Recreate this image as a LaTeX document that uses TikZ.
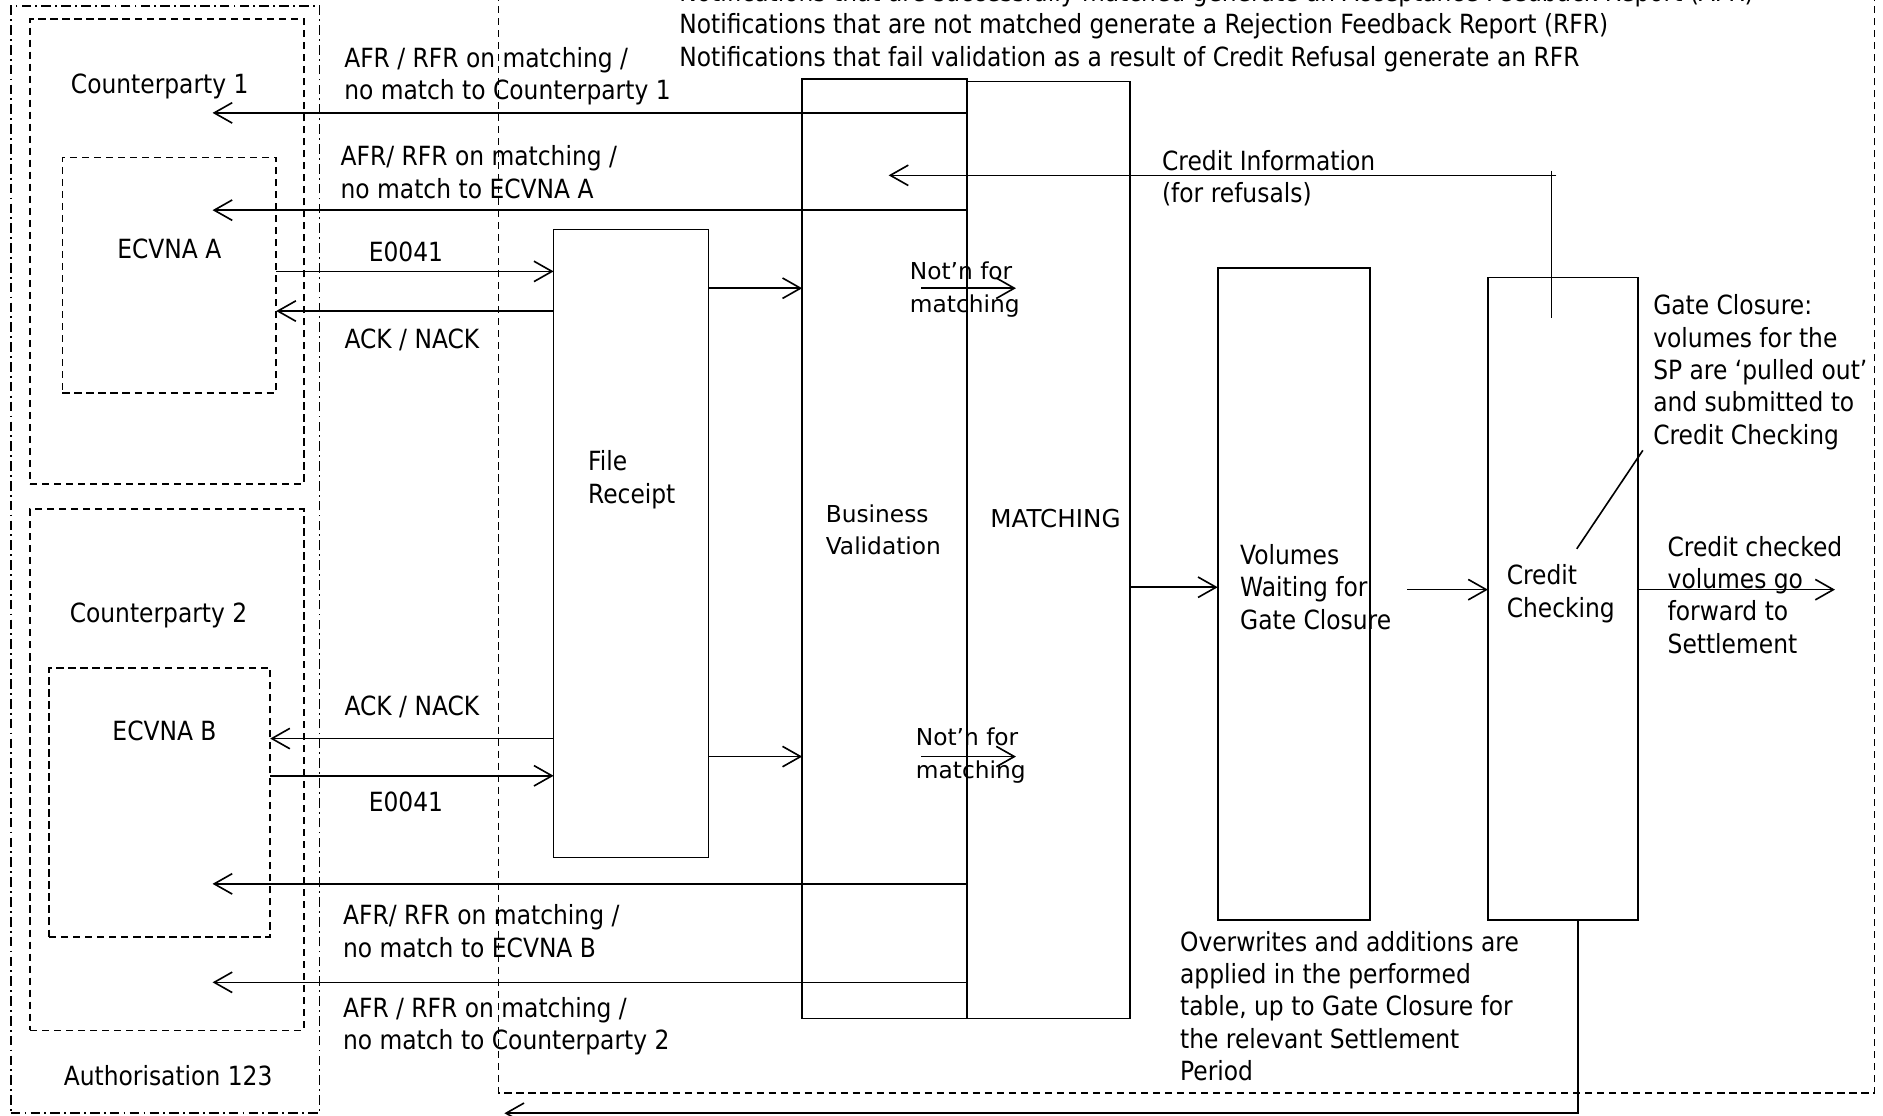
\documentclass[tikz,border=0pt]{standalone}
\usepackage{fontspec}
\setmainfont{DejaVu Sans}[FakeStretch=0.885]
\newfontfamily\widesans{DejaVu Sans}
\usetikzlibrary{arrows.meta}

\newcommand\mainsz{\fontsize{22}{27}\selectfont}
\newcommand\widesz{\widesans\fontsize{19.4}{27}\selectfont}

\begin{document}
\begin{tikzpicture}[x=1pt,y=-1pt,
  line width=1.35pt,
  arr/.style={-{Straight Barb[length=15pt,width=17pt,line width=1.35pt]}},
  procbox/.style={draw, rectangle, inner sep=0pt, outer sep=0pt, anchor=north west},
  dashbox/.style={procbox, dash pattern=on 6pt off 4pt},
  authbox/.style={procbox, dash pattern=on 8pt off 3.5pt on 1.5pt off 3.5pt},
  lbl/.style={inner sep=0pt, align=left, font=\mainsz},
  wlbl/.style={inner sep=0pt, align=left, font=\widesz},
  frame/.style={dash pattern=on 6pt off 4pt}]

\useasboundingbox (0,0) rectangle (1568,929);
\fill[white] (0,0) rectangle (1568,929);

% ---------- participant boxes ----------
\node[authbox, minimum width=257pt, minimum height=922pt] (auth) at (9,5) {};
\node[dashbox, minimum width=228pt, minimum height=387pt] (cp1) at (25,16) {};
\node[dashbox, minimum width=178pt, minimum height=196pt] (ea) at (52,131) {};
\node[dashbox, minimum width=228pt, minimum height=434pt] (cp2) at (25,424) {};
\node[dashbox, minimum width=184pt, minimum height=224pt] (eb) at (41,556) {};

\node[lbl, anchor=base] (cp1l) at (133,78) {Counterparty 1};
\node[lbl, anchor=base] (eal) at (141,215) {ECVNA A};
\node[lbl, anchor=base] (cp2l) at (132,518) {Counterparty 2};
\node[lbl, anchor=base] (ebl) at (137,617) {ECVNA B};
\node[lbl, anchor=base] (authl) at (140,904) {Authorisation 123};

% ---------- system boundary ----------
\coordinate (fa) at (415,-5);
\coordinate (fb) at (415,910);
\coordinate (fc) at (1561,910);
\coordinate (fd) at (1561,-5);
\draw[frame] (fa) -- (fb) -- (fc) -- (fd);

% multi-line labels are anchored on the baseline of their last line
\node[lbl, anchor=base west] (notes) at (565,55)
  {Notifications that are successfully matched generate an Acceptance Feedback Report (AFR)\\
   Notifications that are not matched generate a Rejection Feedback Report (RFR)\\
   Notifications that fail validation as a result of Credit Refusal generate an RFR};

% ---------- process boxes ----------
\node[procbox, minimum width=129pt, minimum height=523pt] (fr) at (461,191) {};
\node[procbox, minimum width=137pt, minimum height=782pt] (bv) at (668,66) {};
\node[procbox, minimum width=136pt, minimum height=780pt] (mat) at (805,68) {};
\node[procbox, minimum width=127pt, minimum height=543pt] (vol) at (1014,223) {};
\node[procbox, minimum width=125pt, minimum height=535pt] (cc) at (1239,231) {};

\node[lbl, anchor=base west] (frl) at (489,419) {File\\Receipt};
\node[wlbl, anchor=base west] (bvl) at (687,462) {Business\\Validation};
\node[wlbl, anchor=base west, font=\widesans\fontsize{20.5}{27}\selectfont] (matl) at (824,439) {MATCHING};
\node[lbl, anchor=base west] (voll) at (1032,524) {Volumes\\Waiting for\\Gate Closure};
\node[lbl, anchor=base west] (ccl) at (1254,514) {Credit\\Checking};

% ---------- feedback to participants ----------
\coordinate (t1) at (177,94);
\coordinate (t2) at (177,175);
\coordinate (t3) at (177,736);
\coordinate (t4) at (177,818);
\draw[arr] (mat.west |- t1) -- (t1);
\draw[arr] (mat.west |- t2) -- (t2);
\draw[arr] (mat.west |- t3) -- (t3);
\draw[arr] (mat.west |- t4) -- (t4);

\node[lbl, anchor=base west] (f1) at (286,83) {AFR / RFR on matching /\\no match to Counterparty 1};
\node[lbl, anchor=base west] (f2) at (283,165) {AFR/ RFR on matching /\\no match to ECVNA A};
\node[lbl, anchor=base west] (f3) at (285,797) {AFR/ RFR on matching /\\no match to ECVNA B};
\node[lbl, anchor=base west] (f4) at (285,874) {AFR / RFR on matching /\\no match to Counterparty 2};

% ---------- file submission and acknowledgement ----------
\coordinate (ya1) at (0,226);
\coordinate (ya2) at (0,259);
\coordinate (yb1) at (0,615);
\coordinate (yb2) at (0,646);
\draw[arr] (ea.east |- ya1) -- (fr.west |- ya1);
\draw[arr] (fr.west |- ya2) -- (ea.east |- ya2);
\draw[arr] (fr.west |- yb1) -- (eb.east |- yb1);
\draw[arr] (eb.east |- yb2) -- (fr.west |- yb2);

\node[lbl, anchor=base] (e1) at (338,218) {E0041};
\node[lbl, anchor=base] (a1) at (343,290) {ACK / NACK};
\node[lbl, anchor=base] (a2) at (343,596) {ACK / NACK};
\node[lbl, anchor=base] (e2) at (338,676) {E0041};

% ---------- receipt to validation to matching ----------
\coordinate (yr1) at (0,240);
\coordinate (yr2) at (0,630);
\draw[arr] (fr.east |- yr1) -- (bv.west |- yr1);
\draw[arr] (fr.east |- yr2) -- (bv.west |- yr2);

\coordinate (n1s) at (767,240);
\coordinate (n1e) at (846,240);
\coordinate (n2s) at (767,630);
\coordinate (n2e) at (846,630);
\draw[arr] (n1s) -- (n1e);
\draw[arr] (n2s) -- (n2e);
\node[wlbl, anchor=base west] (n1l) at (757,260) {Not’n for\\matching};
\node[wlbl, anchor=base west] (n2l) at (762,648) {Not’n for\\matching};

% ---------- credit information for refusals ----------
\coordinate (ci1) at (1292,142);
\coordinate (ci2) at (1292,265);
\coordinate (ci3) at (1296,146);
\coordinate (ci4) at (740,146);
\draw (ci1) -- (ci2);
\draw[arr] (ci3) -- (ci4);
\node[lbl, anchor=base west] (cil) at (967,169) {Credit Information\\(for refusals)};

% ---------- matched volumes through gate closure ----------
\coordinate (ym) at (0,489);
\coordinate (yv) at (0,491);
\coordinate (vs) at (1172,491);
\coordinate (out) at (1528,491);
\draw[arr] (mat.east |- ym) -- (vol.west |- ym);
\draw[arr] (vs) -- (cc.west |- yv);
\draw[arr] (cc.east |- yv) -- (out);
\node[lbl, anchor=base west] (outl) at (1388,544)
  {Credit checked\\volumes go\\forward to\\Settlement};

\coordinate (g1) at (1368,375);
\coordinate (g2) at (1313,457);
\draw (g1) -- (g2);
\node[lbl, anchor=base west] (gcl) at (1376,370)
  {Gate Closure:\\volumes for the\\SP are ‘pulled out’\\and submitted to\\Credit Checking};

\node[lbl, anchor=base west] (owl) at (982,900)
  {Overwrites and additions are\\applied in the performed\\table, up to Gate Closure for\\the relevant Settlement\\Period};

% ---------- return path from credit checking ----------
\coordinate (r0) at (1314,0);
\coordinate (r1) at (1314,927);
\coordinate (r2) at (420,927);
\draw[arr] (cc.south -| r0) -- (r1) -- (r2);

\end{tikzpicture}
\end{document}
